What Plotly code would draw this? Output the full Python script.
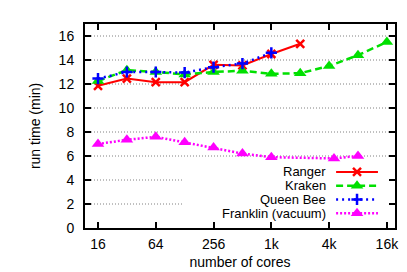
import plotly.graph_objects as go

# ---- data ----
ranger_cores = [16, 32, 64, 128, 256, 512, 1024, 2048]
ranger_time = [11.85, 12.45, 12.15, 12.15, 13.6, 13.55, 14.5, 15.35]

kraken_cores = [16, 32, 64, 128, 256, 512, 1024, 2048, 4096, 8192, 16384]
kraken_time = [12.25, 13.15, 13.0, 12.8, 13.0, 13.1, 12.85, 12.9, 13.5, 14.4, 15.5]

queenbee_cores = [16, 32, 64, 128, 256, 512, 1024]
queenbee_time = [12.45, 13.0, 13.0, 12.95, 13.4, 13.7, 14.6]

franklin_cores = [16, 32, 64, 128, 256, 512, 1024, 4608, 8192]
franklin_time = [7.0, 7.35, 7.6, 7.15, 6.7, 6.2, 5.9, 5.8, 6.0]

x_tickvals = [16, 64, 256, 1024, 4096, 16384]
x_ticktext = ["16", "64", "256", "1k", "4k", "16k"]
y_tickvals = [0, 2, 4, 6, 8, 10, 12, 14, 16]

series_names = ["Ranger", "Kraken", "Queen Bee", "Franklin (vacuum)"]

# ---- styles ----
FONT = "Liberation Sans, Arial, Helvetica, sans-serif"
FS = 14
FS_KEY = 13
styles = [
    dict(color="#ff0000", dash="solid", width=2,
         symbol="x-thin-open", msize=8, mline=2.5),
    dict(color="#00e000", dash="7px,4px", width=2.5,
         symbol="triangle-up", msize=11, mline=0),
    dict(color="#0000ff", dash="2px,4px", width=2.5,
         symbol="cross-thin-open", msize=8, mline=2.5),
    dict(color="#ff00ff", dash="2px,2px", width=2.5,
         symbol="triangle-up", msize=11, mline=0),
]
series = [
    (ranger_cores, ranger_time),
    (kraken_cores, kraken_time),
    (queenbee_cores, queenbee_time),
    (franklin_cores, franklin_time),
]

fig = go.Figure()

# dotted horizontal grid lines (those behind the key box stop at its left edge)
key_box_left = 0.316
key_box_top_value = 5.2
for yv in y_tickvals[1:]:
    fig.add_shape(type="line", xref="x domain", yref="y",
                  x0=0, x1=(key_box_left if yv < key_box_top_value else 1),
                  y0=yv, y1=yv, layer="below",
                  line=dict(color="#808080", width=1, dash="1px,2px"))

for name, (xs, ys), st in zip(series_names, series, styles):
    fig.add_trace(go.Scatter(
        x=xs, y=ys, name=name, mode="lines+markers", showlegend=False,
        line=dict(color=st["color"], dash=st["dash"], width=st["width"]),
        marker=dict(symbol=st["symbol"], size=st["msize"], color=st["color"],
                    line=dict(color=st["color"], width=st["mline"])),
    ))

# ---- gnuplot-style key (text right-aligned, sample on the right) ----
key_text_x = 0.784
key_line_x0, key_line_x1 = 0.81, 0.945
key_row_y0, key_row_step = 0.275, 0.0675
for i, (name, st) in enumerate(zip(series_names, styles)):
    ry = key_row_y0 - i * key_row_step
    fig.add_annotation(x=key_text_x, y=ry, xref="paper", yref="paper",
                       text=name, showarrow=False, xanchor="right",
                       yanchor="middle",
                       font=dict(family=FONT, size=FS_KEY, color="black"))
    fig.add_trace(go.Scatter(
        x=[key_line_x0, key_line_x1], y=[ry, ry], xaxis="x2", yaxis="y2",
        mode="lines", showlegend=False, hoverinfo="skip",
        line=dict(color=st["color"], dash=st["dash"], width=st["width"])))
    fig.add_trace(go.Scatter(
        x=[(key_line_x0 + key_line_x1) / 2], y=[ry], xaxis="x2", yaxis="y2",
        mode="markers", showlegend=False, hoverinfo="skip",
        marker=dict(symbol=st["symbol"], size=st["msize"], color=st["color"],
                    line=dict(color=st["color"], width=st["mline"]))))

# y axis title, placed like gnuplot's ylabel
fig.add_annotation(x=-0.161, y=0.5, xref="paper", yref="paper",
                   text="run time (min)", textangle=-90, showarrow=False,
                   xanchor="center", yanchor="middle",
                   font=dict(family=FONT, size=FS, color="black"))

axis_common = dict(showline=True, linecolor="black", linewidth=2, mirror="ticks",
                   ticks="inside", ticklen=6, tickwidth=2, tickcolor="black",
                   tickfont=dict(family=FONT, size=FS, color="black"),
                   zeroline=False, showgrid=False)

fig.update_layout(
    width=407, height=272,
    margin=dict(l=77, r=20, t=16, b=45),
    paper_bgcolor="white", plot_bgcolor="white",
    font=dict(family=FONT, size=FS, color="black"),
    showlegend=False,
    xaxis=dict(type="log", range=[1.0687, 4.299], tickvals=x_tickvals,
               ticktext=x_ticktext, ticklabelstandoff=2,
               title=dict(text="number of cores", standoff=6,
                          font=dict(family=FONT, size=FS)),
               **axis_common),
    yaxis=dict(range=[0, 17], tickvals=y_tickvals, ticklabelstandoff=6,
               **axis_common),
    xaxis2=dict(overlaying="x", range=[0, 1], visible=False, fixedrange=True),
    yaxis2=dict(overlaying="y", range=[0, 1], visible=False, fixedrange=True),
)

fig.write_html("out.html")
